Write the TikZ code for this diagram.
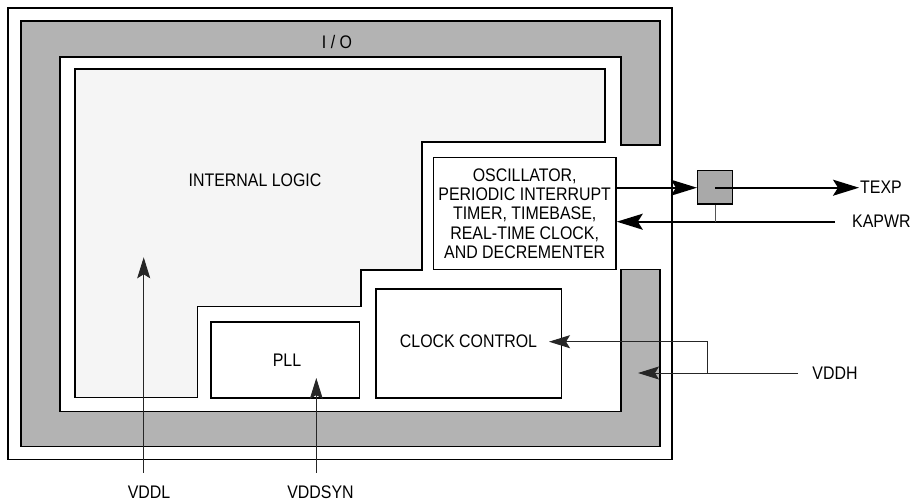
\documentclass[tikz,border=0pt]{standalone}
\usepackage{fontspec}
\setmainfont{Liberation Sans}[FakeStretch=0.875]
\usetikzlibrary{arrows.meta}
\definecolor{ringgray}{HTML}{B3B3B3}
\definecolor{logicfill}{HTML}{F5F5F5}
\definecolor{sqgray}{HTML}{A9A9A9}
\definecolor{wiregray}{HTML}{555555}
\begin{document}
\begin{tikzpicture}[x=1pt,y=-1pt,
  lbl/.style={font=\fontsize{18.2}{19.3}\selectfont, inner sep=1pt},
  blk/.style={draw, line width=1.5pt, fill=white, align=center, inner sep=0pt,
              font=\fontsize{18.2}{19.3}\selectfont},
  thick wire/.style={line width=1.6pt},
  thin wire/.style={line width=0.9pt, draw=black!85},
  bigtip/.style={-{Stealth[length=26pt,width=16pt,inset=5pt]}},
  tip/.style={-{Stealth[length=21pt,width=13pt,inset=4pt]}},
  frame/.style={draw, line width=1.5pt}]
\useasboundingbox (0,0) rectangle (918,501);
% outer frame
\draw[frame, fill=white] (8,8) rectangle (672,459.3);
% I/O ring
\draw[frame, fill=ringgray] (21,21) -- (660,21) -- (660,145) -- (621,145) -- (621,57)
  -- (60,57) -- (60,411.7) -- (621,411.7) -- (621,269.3) -- (660,269.3)
  -- (660,446.7) -- (21,446.7) -- cycle;
\node[lbl] (io) at (337,42) {I / O};
% internal logic
\draw[frame, fill=logicfill] (75,69) -- (605,69) -- (605,142) -- (422,142) -- (422,270)
  -- (361,270) -- (361,306.7) -- (197.7,306.7) -- (197.7,397.7) -- (75,397.7) -- cycle;
\node[lbl] (il) at (255,180) {INTERNAL LOGIC};
% blocks
\node[blk, minimum width=182.7pt, minimum height=111.6pt] (osc) at (524.7,213.5)
  {OSCILLATOR,\\PERIODIC INTERRUPT\\TIMER, TIMEBASE,\\REAL-TIME CLOCK,\\AND DECREMENTER};
\node[blk, minimum width=148.3pt, minimum height=75.7pt] (pll) at (285.2,359.9) {};
\node[lbl] (pllt) at (287,360) {PLL};
\node[blk, minimum width=185.7pt, minimum height=109pt] (clk) at (468.8,343.5) {};
\node[lbl] (clkt) at (468.5,341.7) {CLOCK CONTROL};
\node[draw, line width=1.5pt, fill=sqgray, minimum width=34.6pt, minimum height=33.3pt,
  inner sep=0pt] (sq) at (715,187.2) {};
% external labels
\node[lbl, anchor=west] (texp) at (859,187.7) {TEXP};
\node[lbl, anchor=west] (kapwr) at (851,221.7) {KAPWR};
\node[lbl] (vddh) at (835,373) {VDDH};
\node[lbl] (vddl) at (149,492) {VDDL};
\node[lbl] (vddsyn) at (320.5,492) {VDDSYN};
% connector end points
\coordinate (kapin) at (835,221.7);
\coordinate (vddhin) at (798,373);
\coordinate (vddhbr) at (707,373);
\coordinate (ringtip) at (638,373);
\coordinate (clktip) at (549,341.7);
\coordinate (vddlin) at (143.7,472.7);
\coordinate (vddltip) at (143.7,257.3);
\coordinate (synin) at (316.3,472.7);
\coordinate (syntip) at (316.3,378);
% connectors
\draw[thick wire, bigtip] (osc.east |- texp.west) -- (sq.west |- texp.west);
\draw[thick wire, bigtip] (sq.center |- texp.west) -- (texp.west);
\draw[thick wire, bigtip] (kapin) -- (osc.east |- kapin);
\draw[line width=1pt, draw=wiregray] (sq.south) -- (sq.south |- kapin);
\draw[thin wire, tip] (vddhin) -- (ringtip);
\draw[thin wire, tip] (vddhbr) |- (clktip);
\draw[thin wire, tip] (vddlin) -- (vddltip);
\draw[thin wire, tip] (synin) -- (syntip);
\end{tikzpicture}
\end{document}
